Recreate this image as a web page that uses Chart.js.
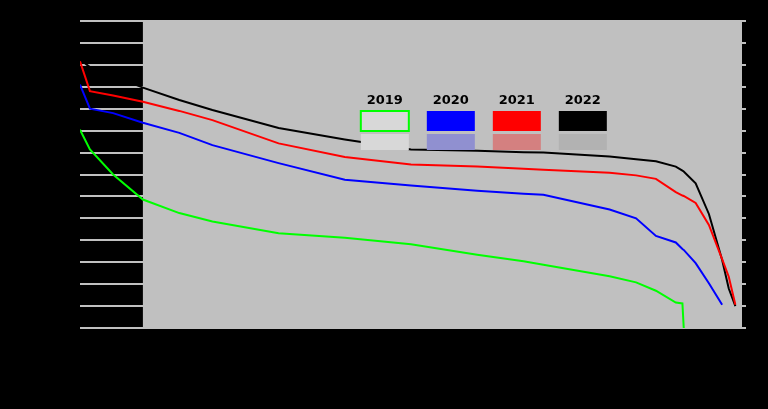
<!DOCTYPE html>
<html>
<head>
<meta charset="utf-8">
<script src="https://cdn.jsdelivr.net/npm/chart.js@4"></script>
<style>
  html, body { margin: 0; padding: 0; background: #000; }
  #wrap { width: 768px; height: 409px; }
</style>
</head>
<body>
<div id="wrap"><canvas id="c" width="768" height="409"></canvas></div>
<script>
// ---- data ----
const positions = [0, 1.5, 5, 9.5, 15, 20, 30, 40, 50, 60, 67, 70, 80, 84, 87, 90, 91, 91.2, 93, 95, 97, 98, 99];
const seriesLabels = ['2019', '2020', '2021', '2022'];
const greenValues = [45.2, 40.7, 35.0, 29.3, 26.2, 24.3, 21.6, 20.6, 19.1, 16.7, 15.2, 14.4, 11.8, 10.4, 8.5, 5.8, 5.6, 0, null, null, null, null, null];
const blueValues  = [55.5, 50.0, 49.0, 46.8, 44.5, 41.7, 37.6, 33.8, 32.5, 31.3, 30.6, 30.4, 27.0, 25.0, 21.0, 19.5, 18.0, 17.8, 14.8, 10.2, 5.3, null, null];
const redValues   = [60.8, 54.0, 53.0, 51.6, 49.5, 47.4, 42.1, 39.0, 37.3, 36.8, 36.3, 36.1, 35.4, 34.8, 34.0, 31.0, 30.2, 30.1, 28.5, 23.5, 15.7, 11.7, 5.3];
const blackValues = [61.2, 59.5, 57.5, 54.8, 52.0, 49.7, 45.6, 43.0, 40.7, 40.4, 40.1, 40.0, 39.1, 38.5, 38.0, 36.8, 35.9, 35.7, 33.0, 26.0, 15.5, 9.0, 5.0];
const yTicks = [0, 5, 10, 15, 20, 25, 30, 35, 40, 45, 50, 55, 60, 65, 70];

function pts(values) {
  return positions.map((x, i) => ({ x: x, y: values[i] }));
}

const plotBg = {
  id: 'plotBg',
  beforeDraw(chart) {
    const { ctx, chartArea, scales } = chart;
    const startX = scales.x.getPixelForValue(9.5);
    ctx.save();
    ctx.fillStyle = '#000';
    ctx.fillRect(0, 0, chart.width, chart.height);
    ctx.fillStyle = '#c0c0c0';
    ctx.fillRect(startX, chartArea.top, chartArea.right - startX, chartArea.bottom - chartArea.top);
    ctx.restore();
  }
};

const colors = ['#00ff00', '#0000ff', '#ff0000', '#000000'];
const fills = ['#d8d8d8', '#9090d0', '#d48080', '#b2b2b2'];
const allValues = [greenValues, blueValues, redValues, blackValues];

// horizontal legend drawn inside the plot, text above a swatch
const innerLegend = {
  id: 'innerLegend',
  afterDatasetsDraw(chart) {
    const { ctx, chartArea } = chart;
    const step = 66;
    const n = chart.data.datasets.length;
    const cx0 = chartArea.left + (chartArea.right - chartArea.left) * 0.61;
    const top = chartArea.top + 72;
    ctx.save();
    chart.data.datasets.forEach((ds, i) => {
      const cx = cx0 + (i - (n - 1) / 2) * step;
      const left = cx - 24;
      ctx.fillStyle = '#000';
      ctx.font = 'bold 13px "DejaVu Sans"';
      ctx.textAlign = 'center';
      ctx.textBaseline = 'middle';
      ctx.fillText(ds.label, cx, top + 8);
      if (i === 0) {
        ctx.fillStyle = fills[i];
        ctx.fillRect(left, top + 18, 48, 20);
        ctx.strokeStyle = ds.borderColor;
        ctx.lineWidth = 2;
        ctx.strokeRect(left, top + 18, 48, 20);
      } else {
        ctx.fillStyle = ds.borderColor;
        ctx.fillRect(left, top + 18, 48, 20);
      }
      ctx.fillStyle = fills[i];
      ctx.fillRect(left, top + 41, 48, 16);
    });
    ctx.restore();
  }
};

new Chart(document.getElementById('c'), {
  type: 'line',
  data: {
    datasets: allValues.map((v, i) => ({
      label: seriesLabels[i],
      data: pts(v),
      borderColor: colors[i],
      backgroundColor: fills[i],
      borderWidth: 2,
      pointRadius: 0,
      tension: 0,
      spanGaps: true,
      fill: false
    }))
  },
  options: {
    responsive: false,
    animation: false,
    layout: { padding: { top: 21, right: 0, left: 0, bottom: 0 } },
    plugins: {
      legend: { display: false },
      tooltip: { enabled: false }
    },
    scales: {
      x: {
        type: 'linear',
        min: 0,
        max: 100,
        grid: { display: false },
        border: { display: false },
        ticks: { color: '#000' },
        afterFit(scale) { scale.height = 81; }
      },
      y: {
        min: 0,
        max: 70,
        afterBuildTicks(scale) { scale.ticks = yTicks.map(v => ({ value: v })); },
        grid: { color: '#c0c0c0', lineWidth: 2, drawTicks: false },
        border: { display: false },
        ticks: { color: '#000' },
        afterFit(scale) { scale.width = 80; }
      },
      y2: {
        position: 'right',
        min: 0,
        max: 70,
        afterBuildTicks(scale) { scale.ticks = yTicks.map(v => ({ value: v })); },
        grid: { color: '#c0c0c0', lineWidth: 2, drawOnChartArea: false, tickLength: 4 },
        border: { display: false },
        ticks: { color: '#000' },
        afterFit(scale) { scale.width = 26; }
      }
    }
  },
  plugins: [plotBg, innerLegend]
});
</script>
</body>
</html>
